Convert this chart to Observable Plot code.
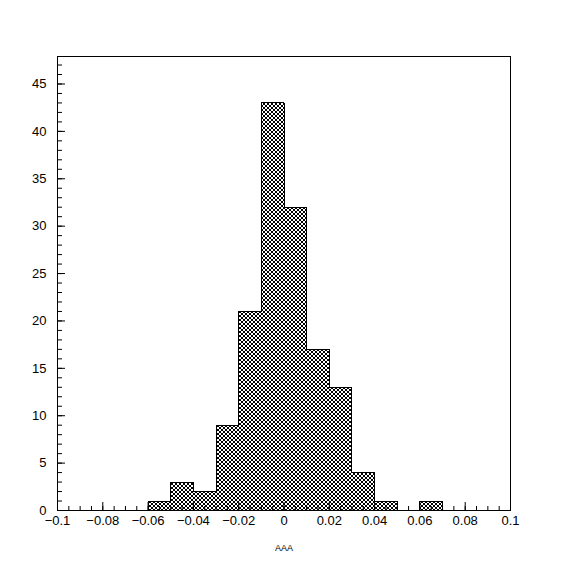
<!DOCTYPE html>
<html>
<head>
<meta charset="utf-8">
<script src="https://cdn.jsdelivr.net/npm/d3@7"></script>
<script src="https://cdn.jsdelivr.net/npm/@observablehq/plot@0.6"></script>
<style>
  html, body { margin: 0; padding: 0; background: #fff; }
  #chart svg { display: block; }
</style>
</head>
<body>
<div id="chart"></div>
<script>
// Histogram data (bin lower edges, bin width 0.01)
const binLo = [-0.06, -0.05, -0.04, -0.03, -0.02, -0.01, 0, 0.01, 0.02, 0.03, 0.04, 0.06];
const counts = [1, 3, 2, 9, 21, 43, 32, 17, 13, 4, 1, 1];
const binWidth = 0.01;

// Axis ticks
const xMajor = [-0.1, -0.08, -0.06, -0.04, -0.02, 0, 0.02, 0.04, 0.06, 0.08, 0.1];
const xLabels = ["\u22120.1", "\u22120.08", "\u22120.06", "\u22120.04", "\u22120.02", "0", "0.02", "0.04", "0.06", "0.08", "0.1"];
const xMinor = d3.range(-20, 21).map(i => i * 0.005);
const yMajor = [0, 5, 10, 15, 20, 25, 30, 35, 40, 45];
const yMinor = d3.range(0, 48);
const xTitle = "AAA";

const bins = binLo.map((lo, i) => ({x1: lo, x2: +(lo + binWidth).toFixed(3), y: counts[i]}));

// step outline of the histogram (outer contour only)
const outline = [];
bins.forEach((b, i) => {
  const prev = bins[i - 1];
  if (!prev || Math.abs(prev.x2 - b.x1) > 1e-9) outline.push({x: b.x1, y: 0});
  outline.push({x: b.x1, y: b.y}, {x: b.x2, y: b.y});
  const next = bins[i + 1];
  if (!next || Math.abs(next.x1 - b.x2) > 1e-9) outline.push({x: b.x2, y: 0});
});

const plot = Plot.plot({
  width: 567,
  height: 567,
  marginLeft: 57,
  marginRight: 57,
  marginTop: 56,
  marginBottom: 57,
  style: {fontFamily: "'Liberation Sans', Arial, sans-serif", fontSize: "13px", background: "#fff", color: "#000"},
  x: {domain: [-0.1, 0.1]},
  y: {domain: [0, 47.9]},
  marks: [
    Plot.rectY(bins, {x1: "x1", x2: "x2", y: "y", fill: "url(#hatch)", shapeRendering: "crispEdges"}),
    Plot.line(outline, {x: "x", y: "y", stroke: "#000", strokeWidth: 1, shapeRendering: "crispEdges"}),
    Plot.frame({stroke: "#000", strokeWidth: 1}),
    // x minor ticks (inward)
    Plot.axisX({ticks: xMinor, tickSize: -4, text: null, label: null, strokeWidth: 1}),
    Plot.axisX({ticks: xMajor, tickSize: -8, text: null, label: null, strokeWidth: 1}),
    Plot.axisX({ticks: xMajor, tickSize: 0, tickPadding: 5, tickFormat: (d, i) => xLabels[i], label: null, fontSize: 13}),
    // y ticks (inward)
    Plot.axisY({ticks: yMinor, tickSize: -5, text: null, label: null, strokeWidth: 1}),
    Plot.axisY({ticks: yMajor, tickSize: -8, text: null, label: null, strokeWidth: 1}),
    Plot.axisY({ticks: yMajor, tickSize: 0, tickPadding: 11, label: null, fontSize: 13}),
    Plot.text([xTitle], {frameAnchor: "bottom", dy: 38, fontSize: 9, lineAnchor: "middle"})
  ]
});

// crosshatch pattern
const ns = "http://www.w3.org/2000/svg";
const defs = document.createElementNS(ns, "defs");
defs.innerHTML = `<pattern id="hatch" patternUnits="userSpaceOnUse" width="4" height="4">
  <rect width="4" height="4" fill="#fff"/>
  <path d="M0,0 L4,4 M4,0 L0,4" stroke="#000" stroke-width="1" shape-rendering="crispEdges"/>
</pattern>`;
plot.insertBefore(defs, plot.firstChild);

document.getElementById("chart").appendChild(plot);
</script>
</body>
</html>
